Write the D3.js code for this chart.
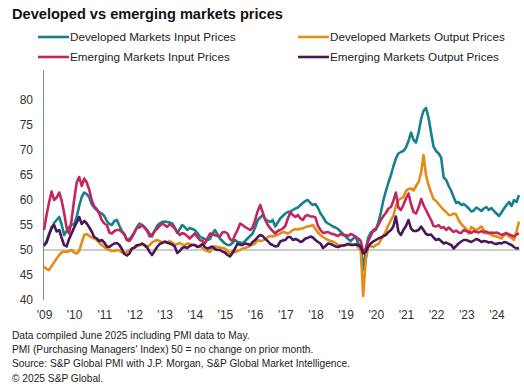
<!DOCTYPE html>
<html>
<head>
<meta charset="utf-8">
<script src="https://cdn.jsdelivr.net/npm/d3@7"></script>
<style>
  body { margin: 0; background: #fff; }
  svg { display: block; font-family: Arial, "Liberation Sans", sans-serif; }
  .note { font-size: 10.2px; fill: #222; }
  .tick-label { font-size: 12px; fill: #333; }
</style>
</head>
<body>
<div id="chart"></div>
<script>
const seriesNames = [
  "Developed Markets Input Prices",
  "Developed Markets Output Prices",
  "Emerging Markets Input Prices",
  "Emerging Markets Output Prices"
];
const seriesColors = ["#16808f", "#e48c13", "#c4255c", "#48175a"];

// monthly, Aug 2009 - May 2025
const dmInput = [
  50.7, 51.8, 53.2, 54.3, 55.4, 56.0, 56.6, 55.2, 53.0, 53.8, 54.6, 55.0,
  55.2, 56.6, 58.8, 60.6, 61.5, 61.2, 60.5, 59.2, 58.5, 58.0, 57.6, 57.3,
  56.8, 55.8, 55.2, 55.0, 55.8, 56.0, 54.8, 53.8, 53.0, 52.0, 52.2, 52.8,
  53.6, 54.6, 55.3, 55.0, 54.6, 54.0, 53.2, 52.7, 53.8, 54.8, 55.3, 55.6,
  55.7, 55.6, 55.5, 55.3, 54.5, 53.4, 54.2, 55.0, 54.6, 54.0, 54.4, 54.2,
  54.0, 53.4, 52.7, 52.4, 52.2, 52.0, 52.2, 53.2, 54.0, 53.2, 52.3, 51.8,
  51.3, 51.0, 51.0, 51.4, 52.0, 51.6, 51.5, 51.3, 51.8, 52.3, 52.8, 53.3,
  54.5, 56.0, 56.5, 57.0, 56.2, 55.8, 55.6, 56.0, 54.7, 55.5, 56.3, 56.8,
  57.3, 57.6, 57.7, 58.0, 58.3, 58.5, 59.0, 59.4, 59.8, 60.0, 59.4, 59.0,
  59.2, 58.4, 57.3, 56.6, 55.7, 55.3, 55.0, 54.7, 54.5, 54.2, 53.7, 53.2,
  52.7, 52.2, 51.8, 52.3, 52.7, 51.3, 50.5, 46.0, 50.0, 52.5, 53.5, 53.7,
  54.0, 55.5, 57.5, 60.0, 61.8, 63.5, 65.0, 66.7, 68.3, 69.3, 69.6, 69.8,
  70.5, 71.8, 73.5, 72.0, 71.5, 73.5, 76.2, 77.8, 78.4, 76.5, 73.5, 70.7,
  69.8, 69.3, 68.5, 64.5, 64.0, 62.8, 61.8, 60.6, 59.4, 59.6, 59.0, 59.2,
  58.8, 58.3, 57.7, 57.9, 58.5, 58.2, 57.8, 58.3, 58.6, 58.0, 58.4, 57.8,
  57.3, 56.8, 57.5, 58.3, 59.0, 59.6, 58.8, 60.0, 59.6, 61.0
];

const dmOutput = [
  46.7, 46.2, 46.0, 46.8, 47.5, 48.3, 49.0, 49.5, 49.7, 49.6, 49.8, 50.0,
  49.5, 49.3, 49.8, 51.5, 53.0, 53.2, 52.8, 52.5, 52.3, 52.0, 51.5, 51.0,
  50.6, 50.2, 50.0, 49.8, 49.8, 50.0, 49.9, 49.5, 49.3, 49.6, 50.0, 50.2,
  50.5, 50.7, 51.0, 51.2, 50.8, 50.6, 51.0, 51.5, 51.8, 52.0, 51.8, 51.6,
  51.5, 51.4, 51.8, 51.5, 51.0, 51.2, 51.4, 51.1, 51.0, 51.3, 51.2, 51.0,
  51.0, 50.8, 50.7, 50.4, 50.0, 49.8, 49.6, 50.5, 50.7, 50.6, 50.5, 50.4,
  50.3, 49.8, 49.3, 49.8, 49.6, 49.8, 50.0, 50.3, 50.4, 50.6, 50.8, 51.1,
  51.3, 52.0, 51.8, 51.9, 52.2, 52.6, 52.8, 52.7, 52.9, 53.0, 53.3, 53.6,
  53.5, 53.3, 53.6, 54.0, 54.2, 54.1, 54.3, 54.3, 54.6, 54.7, 54.8, 55.0,
  54.2, 53.5, 53.0, 52.6, 52.3, 52.0, 51.8, 51.7, 51.4, 51.0, 51.0, 50.8,
  51.0, 51.2, 51.3, 51.0, 51.2, 50.5, 50.0, 40.8, 48.0, 50.6, 50.8, 50.6,
  51.0, 51.2, 52.0, 52.8, 53.8, 55.0, 56.0, 56.8, 58.8, 60.0, 60.3, 60.6,
  61.8, 62.2, 62.3, 61.9, 62.8, 63.6, 65.5, 69.0, 65.0, 63.0, 61.5, 60.2,
  59.8, 59.2, 58.6, 58.0, 57.6, 57.0, 57.0, 57.3, 57.1, 56.0, 55.2, 54.7,
  54.2, 53.3, 54.6, 54.3, 54.0, 54.3, 54.7, 54.0, 53.3, 53.4, 53.0, 52.8,
  52.7, 52.5, 52.3, 53.0, 53.2, 52.7, 52.4, 52.0, 53.7, 55.7
];

const emInput = [
  54.0, 57.0, 59.5, 61.7, 60.0, 60.5, 61.5, 60.0, 57.5, 54.5, 53.3, 56.0,
  60.0, 63.5, 64.6, 62.8, 64.3, 63.5, 62.0, 60.0, 58.7, 58.2, 57.3, 56.0,
  55.3, 55.0, 53.5, 53.3, 53.8, 54.0, 54.0, 53.6, 53.2, 52.0, 51.8, 52.5,
  53.5, 54.5, 54.5, 55.0, 54.4, 53.8, 52.7, 53.0, 53.8, 54.2, 54.8, 55.3,
  55.0, 54.6, 55.2, 54.8, 54.3, 53.6, 53.0, 53.4, 53.2, 52.8, 52.3, 52.8,
  53.3, 52.6, 52.0, 51.8, 51.3, 52.3, 53.3, 53.2, 53.0, 52.8, 52.7, 53.5,
  53.6, 53.3, 52.2, 51.8, 53.0, 54.0, 55.3, 55.0, 54.6, 54.3, 54.0, 54.5,
  56.0, 57.8, 59.0, 57.5, 56.0, 55.0, 54.3, 53.8, 53.3, 53.8, 54.0, 54.3,
  54.8, 56.3, 57.5, 57.0, 56.6, 57.0, 56.3, 56.0, 56.8, 57.0, 56.7, 56.7,
  56.5, 54.8, 54.0, 53.4, 53.5, 53.6, 53.3, 53.2, 53.0, 52.8, 53.2, 53.0,
  53.0, 52.8, 53.2, 53.0, 52.6, 52.3, 51.8, 49.6, 50.3, 51.8, 52.8, 54.0,
  54.3, 55.0, 56.0, 56.8, 57.4, 58.3, 58.6, 59.8, 61.5, 58.5, 58.0, 59.0,
  60.3, 61.3, 59.2, 57.6, 57.3, 58.5, 60.2, 59.0, 58.0, 57.0, 56.0, 54.8,
  54.7, 55.0, 54.4, 54.6, 54.0, 54.5, 54.0, 53.6, 53.9, 53.5, 53.4, 54.0,
  53.8, 53.6, 53.4, 53.8, 53.6, 53.5, 53.8, 53.5, 53.7, 53.4, 53.5, 53.4,
  53.5, 53.3, 53.0, 53.2, 53.4, 53.1, 52.9, 52.7, 53.1, 53.3
];

const emOutput = [
  51.0, 51.5, 53.0, 54.5, 55.0, 53.7, 54.0, 52.5, 51.0, 50.7, 52.2, 53.3,
  54.5, 55.5, 56.6, 55.2, 55.8, 55.3, 54.5, 53.7, 52.6, 52.3, 51.8, 52.0,
  51.5, 50.7, 50.6, 51.0, 51.3, 51.4, 51.0, 50.2, 49.2, 48.9, 49.3, 50.3,
  50.5, 51.0, 51.0, 51.3, 51.0, 50.5, 49.6, 49.0, 49.8, 50.6, 51.2, 51.4,
  51.7, 51.5, 51.3, 51.1, 50.7, 49.4, 49.8, 50.4, 50.6, 50.4, 50.8, 51.0,
  51.0, 50.6, 50.8, 51.2, 50.6, 50.3, 50.5, 50.7, 50.2, 50.0, 50.0, 49.7,
  49.5, 49.0, 48.7, 49.4, 50.3, 51.3, 51.0, 51.0, 51.3, 51.2, 51.0, 51.6,
  52.0, 52.6, 53.0, 52.8, 52.2, 51.8, 51.2, 51.0, 50.7, 50.8, 51.7, 51.9,
  52.0, 52.6, 52.6, 52.0, 52.2, 52.0, 51.6, 51.8, 52.3, 52.4, 52.7, 52.5,
  52.0, 51.6, 51.3, 50.4, 50.8, 51.3, 51.2, 51.0, 50.7, 50.6, 50.8, 50.9,
  51.0, 51.2, 51.0, 51.0, 51.1, 51.0, 50.6, 49.3, 49.6, 50.7, 51.3, 51.7,
  52.0, 52.3, 52.5, 52.8, 53.0, 53.6, 54.0, 54.7, 56.7, 53.7, 53.0, 54.0,
  54.8, 56.0, 54.3, 53.8, 53.8, 54.0, 54.7, 54.0, 53.2, 53.0, 53.1, 52.5,
  52.0, 52.2, 51.8, 51.3, 51.5, 51.2, 51.0, 50.3, 50.8, 51.3, 51.7, 52.0,
  52.0, 51.8, 51.6, 51.9, 52.2, 52.0, 51.6, 51.8, 51.7, 51.5, 51.6, 51.3,
  51.2, 51.4, 51.3, 51.6, 51.5, 51.2, 51.0, 50.6, 50.3, 50.4
];

const xTickLabels = ["'09", "'10", "'11", "'12", "'13", "'14", "'15", "'16",
  "'17", "'18", "'19", "'20", "'21", "'22", "'23", "'24"];
const yTicks = [40, 45, 50, 55, 60, 65, 70, 75, 80];

const notes = [
  "Data compiled June 2025 including PMI data to May.",
  "PMI (Purchasing Managers' Index) 50 = no change on prior month.",
  "Source: S&P Global PMI with J.P. Morgan, S&P Global Market Intelligence.",
  "\u00a9 2025 S&P Global."
];

const width = 524;
const height = 387;

const svg = d3.select("#chart")
  .append("svg")
  .attr("width", width)
  .attr("height", height);

svg.append("text")
  .attr("x", 12)
  .attr("y", 19)
  .attr("font-size", "14.6px")
  .attr("font-weight", "bold")
  .attr("fill", "#111")
  .text("Developed vs emerging markets prices");

// legend, two columns
const legendPos = [[38, 37], [298, 37], [38, 57], [298, 57]];
seriesNames.forEach((name, i) => {
  const [lx, ly] = legendPos[i];
  const g = svg.append("g").attr("transform", `translate(${lx},${ly})`);
  g.append("line")
    .attr("x1", 0).attr("x2", 31)
    .attr("y1", 0).attr("y2", 0)
    .attr("stroke", seriesColors[i])
    .attr("stroke-width", 2.6);
  g.append("text")
    .attr("x", 32)
    .attr("y", 4.2)
    .attr("font-size", "11.7px")
    .attr("fill", "#222")
    .text(name);
});

const months = d3.range(dmInput.length).map((i) => new Date(2009, 7 + i, 1));

const x = d3.scaleTime()
  .domain([months[0], months[months.length - 1]])
  .range([44, 519]);

const y = d3.scaleLinear()
  .domain([40, 80])
  .range([300, 100]);

// y axis, labels only
const yAxis = svg.append("g")
  .attr("transform", "translate(44,0)")
  .call(d3.axisLeft(y).tickValues(yTicks).tickSize(0).tickPadding(11));
yAxis.select(".domain").remove();
yAxis.selectAll("text")
  .attr("class", "tick-label")
  .attr("font-family", null)
  .attr("font-size", null);

svg.append("line")
  .attr("x1", 43.5).attr("x2", 43.5)
  .attr("y1", 70).attr("y2", 300)
  .attr("stroke", "#888")
  .attr("stroke-width", 1);

// 50 = no change line
svg.append("line")
  .attr("x1", 44).attr("x2", 520)
  .attr("y1", y(50)).attr("y2", y(50))
  .attr("stroke", "#999")
  .attr("stroke-width", 1);

// x axis, one label every 12 months
const labelDates = xTickLabels.map((_, i) => months[i * 12]);
const xAxis = svg.append("g")
  .attr("transform", "translate(0,304)")
  .call(d3.axisBottom(x)
    .tickValues(labelDates)
    .tickSize(0)
    .tickPadding(6)
    .tickFormat((d, i) => xTickLabels[i]));
xAxis.select(".domain").remove();
xAxis.selectAll("text")
  .attr("class", "tick-label")
  .attr("font-family", null)
  .attr("font-size", null);

const allSeries = [dmInput, dmOutput, emInput, emOutput];

const line = d3.line()
  .x((d, i) => x(months[i]))
  .y((d) => y(d));

svg.selectAll(".series")
  .data(allSeries)
  .enter()
  .append("path")
  .attr("class", "series")
  .attr("d", (d) => line(d))
  .attr("fill", "none")
  .attr("stroke", (d, i) => seriesColors[i])
  .attr("stroke-width", 2.6)
  .attr("stroke-linejoin", "round");

const noteY = [338.5, 352.5, 367, 381.5];
notes.forEach((t, i) => {
  svg.append("text")
    .attr("class", "note")
    .attr("x", 12)
    .attr("y", noteY[i])
    .text(t);
});
</script>
</body>
</html>
